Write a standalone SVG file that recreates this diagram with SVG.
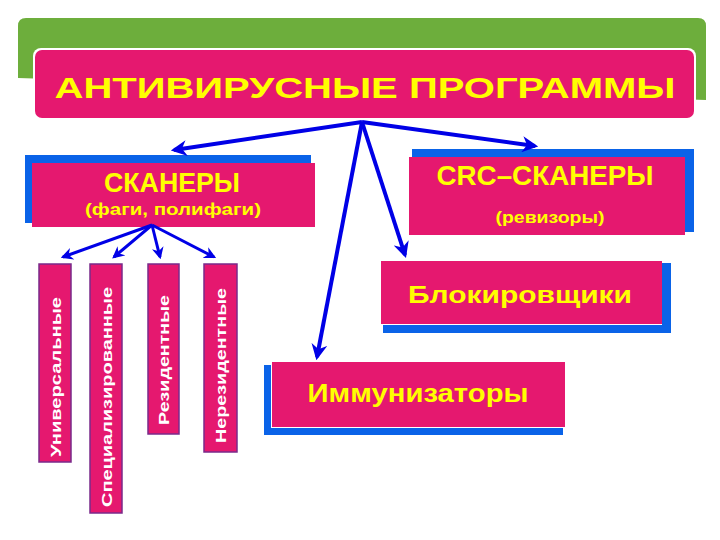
<svg xmlns="http://www.w3.org/2000/svg" width="720" height="540" viewBox="0 0 720 540">
<style>
.pk{fill:#e5186f}
.sh{fill:#0a63e8}
.y{fill:#ffff00;font-family:"Liberation Sans",Arial,sans-serif;font-weight:bold}
.v{fill:#e5186f;stroke:#7a2a8a;stroke-width:1.5}
.vt{fill:#fff;font-family:"Liberation Sans",Arial,sans-serif;font-weight:bold;font-size:15px}
.c{stroke:#0000e6;stroke-width:4;fill:none;marker-end:url(#a)}
.c2{stroke:#0000e6;stroke-width:3;fill:none;marker-end:url(#a)}
</style>
<defs>
<marker id="a" viewBox="0 0 10 10" refX="8" refY="5" markerWidth="4" markerHeight="4" orient="auto" markerUnits="strokeWidth"><path d="M0,0 L10,5 L0,10 L3,5 z" fill="#0000e6"/></marker>
</defs>
<rect width="720" height="540" fill="#fff"/>
<g id="banner"><path d="M18,26 Q18,18 26,18 L698,18 Q706,18 706,26 L706,100 L18,78 z" fill="#6dae3c"/></g>
<g id="title">
<rect x="33" y="48" width="663" height="72" rx="8" fill="#fff"/>
<rect x="35" y="50" width="659" height="68" rx="7" class="pk"/>
<text x="365" y="98" text-anchor="middle" class="y" font-size="30" textLength="621" lengthAdjust="spacingAndGlyphs">АНТИВИРУСНЫЕ ПРОГРАММЫ</text>
</g>
<g id="scanners">
<rect x="25" y="155" width="286" height="68" class="sh"/>
<rect x="32" y="163" width="283" height="64" class="pk"/>
<text x="172" y="192" text-anchor="middle" class="y" font-size="28" font-weight="normal" textLength="136" lengthAdjust="spacingAndGlyphs">СКАНЕРЫ</text>
<text x="173" y="215" text-anchor="middle" class="y" font-size="17" font-weight="normal" textLength="176" lengthAdjust="spacingAndGlyphs">(фаги, полифаги)</text>
</g>
<g id="crc">
<rect x="412" y="149" width="282" height="83" class="sh"/>
<rect x="409" y="157" width="276" height="78" class="pk"/>
<text x="545" y="185" text-anchor="middle" class="y" font-size="28" font-weight="normal" textLength="217" lengthAdjust="spacingAndGlyphs">CRC–СКАНЕРЫ</text>
<text x="550" y="223" text-anchor="middle" class="y" font-size="17" font-weight="normal" textLength="109" lengthAdjust="spacingAndGlyphs">(ревизоры)</text>
</g>
<g id="block">
<rect x="383" y="263" width="288" height="70" class="sh"/>
<rect x="380" y="260" width="282" height="65" fill="#fff"/>
<rect x="381" y="261" width="281" height="63" class="pk"/>
<text x="520" y="303" text-anchor="middle" class="y" font-size="24" textLength="224" lengthAdjust="spacingAndGlyphs">Блокировщики</text>
</g>
<g id="immun">
<rect x="264" y="365" width="299" height="70" class="sh"/>
<rect x="271" y="361" width="295" height="67" fill="#fff"/>
<rect x="272" y="362" width="293" height="65" class="pk"/>
<text x="418" y="402" text-anchor="middle" class="y" font-size="26" textLength="221" lengthAdjust="spacingAndGlyphs">Иммунизаторы</text>
</g>
<g id="univ"><rect x="39" y="264" width="32" height="198" class="v"/><text class="vt" transform="translate(61,457) rotate(-90)" textLength="160" lengthAdjust="spacingAndGlyphs">Универсальные</text></g>
<g id="spec"><rect x="90" y="264" width="32" height="249" class="v"/><text class="vt" transform="translate(112,507) rotate(-90)" textLength="220" lengthAdjust="spacingAndGlyphs">Специализированные</text></g>
<g id="res"><rect x="148" y="264" width="31" height="170" class="v"/><text class="vt" transform="translate(169,425) rotate(-90)" textLength="130" lengthAdjust="spacingAndGlyphs">Резидентные</text></g>
<g id="nonres"><rect x="204" y="264" width="33" height="188" class="v"/><text class="vt" transform="translate(226,443) rotate(-90)" textLength="155" lengthAdjust="spacingAndGlyphs">Нерезидентные</text></g>
<g id="connectors">
<line x1="362" y1="122" x2="174" y2="150" class="c"/>
<line x1="362" y1="122" x2="535" y2="146" class="c"/>
<line x1="362" y1="122" x2="317" y2="357" class="c"/>
<line x1="362" y1="122" x2="405" y2="255" class="c"/>
<line x1="152" y1="225" x2="63" y2="257" class="c2"/>
<line x1="152" y1="225" x2="114" y2="257" class="c2"/>
<line x1="152" y1="225" x2="160" y2="257" class="c2"/>
<line x1="152" y1="225" x2="214" y2="257" class="c2"/>
</g>
</svg>
